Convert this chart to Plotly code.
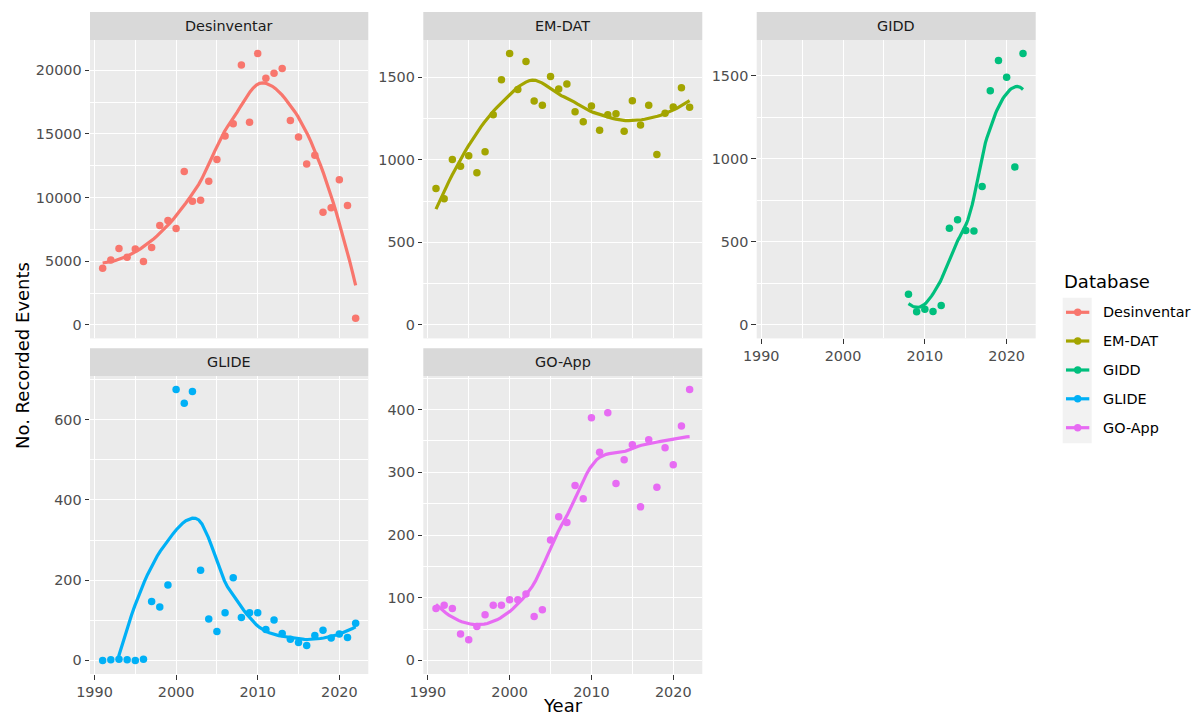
import numpy as np
import plotly.graph_objects as go

# ---------------- data ----------------
years_all = list(range(1991, 2023))
years_gidd = list(range(2008, 2023))

desinventar = [4450, 5100, 6000, 5300, 5950, 4970, 6070, 7800, 8190, 7570,
               12040, 9710, 9790, 11280, 12980, 14840, 15790, 20420, 15920, 21310,
               19370, 19760, 20130, 16050, 14760, 12640, 13320, 8850, 9190, 11390,
               9370, 520]
emdat = [826, 763, 1001, 961, 1024, 921, 1048, 1272, 1484, 1643,
         1425, 1595, 1355, 1330, 1504, 1429, 1458, 1290, 1230, 1326,
         1179, 1272, 1278, 1173, 1357, 1211, 1330, 1032, 1282, 1320,
         1436, 1318]
gidd = [184, 78, 94, 80, 116, 581, 632, 567, 565, 832, 1409, 1590, 1490, 950, 1632]
glide = [0, 2, 3, 2, 0, 3, 147, 133, 188, 675,
         641, 670, 225, 103, 72, 119, 206, 107, 119, 119,
         77, 101, 67, 53, 45, 37, 62, 75, 56, 66,
         57, 93]
goapp = [83, 88, 83, 42, 33, 54, 73, 88, 88, 97,
         97, 106, 70, 81, 192, 229, 220, 279, 258, 387,
         332, 395, 282, 320, 344, 245, 352, 276, 339, 312,
         374, 432]

databases = ["Desinventar", "EM-DAT", "GIDD", "GLIDE", "GO-App"]
series_x = [years_all, years_all, years_gidd, years_all, years_all]
series_y = [desinventar, emdat, gidd, glide, goapp]
colors = ["#F8766D", "#A3A500", "#00BF7D", "#00B0F6", "#E76BF3"]
major_dtick = [5000, 500, 500, 200, 100]
x_ticks = [1990, 2000, 2010, 2020]

# ---------------- layout geometry (pixels) ----------------
W, H = 1196, 715
col_x = [(90.0, 368.3), (423.3, 702.3), (756.7, 1035.7)]
row_y = [(40.0, 338.4), (376.0, 674.0)]
strip_y = [(12.0, 40.0), (348.3, 376.0)]
positions = [(0, 0), (0, 1), (0, 2), (1, 0), (1, 1)]


def px(x):
    return x / W


def py(y):
    return 1 - y / H


# ---------------- loess smoother (R-style, span 0.75, degree 2) ----------------
def local_fit(x, y, x0, q, degree=2):
    d = np.abs(x - x0)
    h = np.sort(d)[q - 1]
    u = np.clip(d / h, 0, 1)
    w = (1 - u ** 3) ** 3
    sw = np.sqrt(w)
    X = np.vander(x - x0, degree + 1, increasing=True)
    beta = np.linalg.lstsq(X * sw[:, None], y * sw, rcond=None)[0]
    return beta[0], beta[1]


def kd_vertices(xs_sorted, fc):
    lo_b, hi_b = xs_sorted[0], xs_sorted[-1]
    mu = 0.005 * (hi_b - lo_b)
    verts = {lo_b - mu, hi_b + mu}

    def split(l, u):
        if u - l + 1 <= fc:
            return
        m = (l + u) // 2
        v = (xs_sorted[m] + xs_sorted[m + 1]) / 2 if m < u else xs_sorted[m]
        verts.add(v)
        split(l, m)
        split(m + 1, u)

    split(0, len(xs_sorted) - 1)
    return np.array(sorted(verts))


def loess(x, y, xs, span=0.75, degree=2, cell=0.2):
    x = np.asarray(x, float)
    y = np.asarray(y, float)
    n = len(x)
    q = int(np.floor(n * span))
    fc = int(np.floor(n * span * cell))
    verts = kd_vertices(np.sort(x), fc)
    vals = np.array([local_fit(x, y, v, q, degree) for v in verts])
    out = []
    for x0 in xs:
        j = min(max(np.searchsorted(verts, x0) - 1, 0), len(verts) - 2)
        a, b = verts[j], verts[j + 1]
        hgt = b - a
        t = (x0 - a) / hgt
        fa, da = vals[j]
        fb, db = vals[j + 1]
        h00 = 2 * t ** 3 - 3 * t ** 2 + 1
        h10 = t ** 3 - 2 * t ** 2 + t
        h01 = -2 * t ** 3 + 3 * t ** 2
        h11 = t ** 3 - t ** 2
        out.append(h00 * fa + h10 * hgt * da + h01 * fb + h11 * hgt * db)
    return np.array(out)


fig = go.Figure()
font_family = "DejaVu Sans"
tick_font = dict(family=font_family, size=14.4, color="#4D4D4D")

xmin_all, xmax_all = 1991, 2022
xpad = (xmax_all - xmin_all) * 0.05
xrange = [xmin_all - xpad, xmax_all + xpad]

shapes = []
annotations = []

for i, (name, xs, ys, col, dt) in enumerate(zip(databases, series_x, series_y, colors, major_dtick)):
    r, c = positions[i]
    suffix = "" if i == 0 else str(i + 1)
    xa = "x" + suffix
    ya = "y" + suffix

    grid = np.linspace(min(xs), max(xs), 80)
    sm = loess(xs, ys, grid)
    sm_plot = np.where(sm >= 0, sm, np.nan)

    fig.add_trace(go.Scatter(x=xs, y=ys, mode="markers", xaxis=xa, yaxis=ya,
                             marker=dict(color=col, size=7.5), showlegend=False,
                             name=name, hoverinfo="x+y"))
    fig.add_trace(go.Scatter(x=grid, y=sm_plot, mode="lines", xaxis=xa, yaxis=ya,
                             line=dict(color=col, width=3.2), showlegend=False,
                             name=name, connectgaps=False))

    lo = 0.0
    hi = max(max(ys), float(np.nanmax(sm_plot)))
    pad = (hi - lo) * 0.05
    yrange = [lo - pad, hi + pad]

    show_x = (r == 1) or (i == 2)
    x0p, x1p = col_x[c]
    y0p, y1p = row_y[r]

    fig.layout["xaxis" + suffix] = dict(
        domain=[px(x0p), px(x1p)], anchor=ya, range=xrange, automargin=False,
        tickmode="array", tickvals=x_ticks,
        showticklabels=show_x, ticks="outside" if show_x else "",
        ticklen=4.5, tickwidth=1.1, tickcolor="#333333",
        tickfont=tick_font, showgrid=True, gridcolor="white", gridwidth=1.4,
        minor=dict(tickmode="array", tickvals=[1995, 2005, 2015], showgrid=True,
                   gridcolor="white", gridwidth=0.7, ticks=""),
        zeroline=False, showline=False, fixedrange=True,
    )
    fig.layout["yaxis" + suffix] = dict(
        domain=[py(y1p), py(y0p)], anchor=xa, range=yrange, automargin=False,
        tick0=0, dtick=dt, tickformat="d", ticks="outside", ticklen=4.5, tickwidth=1.1,
        tickcolor="#333333", tickfont=tick_font,
        showgrid=True, gridcolor="white", gridwidth=1.4,
        minor=dict(tick0=0, dtick=dt / 2, showgrid=True, gridcolor="white",
                   gridwidth=0.7, ticks=""),
        zeroline=False, showline=False, fixedrange=True,
    )

    # facet strip
    s0, s1 = strip_y[r]
    shapes.append(dict(type="rect", xref="paper", yref="paper",
                       x0=px(x0p), x1=px(x1p), y0=py(s1), y1=py(s0),
                       fillcolor="#D9D9D9", line=dict(width=0), layer="below"))
    annotations.append(dict(text=name, xref="paper", yref="paper",
                            x=px((x0p + x1p) / 2), y=py((s0 + s1) / 2),
                            xanchor="center", yanchor="middle", showarrow=False,
                            font=dict(family=font_family, size=14.4, color="#1A1A1A")))

# axis titles
annotations.append(dict(text="Year", xref="paper", yref="paper",
                        x=px(563), y=py(705), xanchor="center", yanchor="middle",
                        showarrow=False, font=dict(family=font_family, size=18, color="black")))
annotations.append(dict(text="No. Recorded Events", xref="paper", yref="paper",
                        x=px(23), y=py(356), xanchor="center", yanchor="middle",
                        textangle=-90, showarrow=False,
                        font=dict(family=font_family, size=18, color="black")))

# legend (drawn manually, ggplot style)
annotations.append(dict(text="Database", xref="paper", yref="paper",
                        x=px(1062), y=py(281), xanchor="left", yanchor="middle",
                        showarrow=False, font=dict(family=font_family, size=18, color="black")))
shapes.append(dict(type="rect", xref="paper", yref="paper",
                   x0=px(1062.7), x1=px(1091.7), y0=py(443.3), y1=py(297.7),
                   fillcolor="#F2F2F2", line=dict(width=0)))
leg_y = [312.3, 341.0, 370.0, 398.8, 427.7]
for name, col, yy in zip(databases, colors, leg_y):
    shapes.append(dict(type="line", xref="paper", yref="paper",
                       x0=px(1066), x1=px(1089.3), y0=py(yy), y1=py(yy),
                       line=dict(color=col, width=3.2)))
    shapes.append(dict(type="circle", xref="paper", yref="paper",
                       x0=px(1077.7 - 3.7), x1=px(1077.7 + 3.7),
                       y0=py(yy + 3.7), y1=py(yy - 3.7),
                       fillcolor=col, line=dict(width=0)))
    annotations.append(dict(text=name, xref="paper", yref="paper",
                            x=px(1101), y=py(yy), xanchor="left", yanchor="middle",
                            showarrow=False,
                            font=dict(family=font_family, size=14.4, color="black")))

fig.update_layout(
    width=W, height=H,
    margin=dict(l=0, r=0, t=0, b=0, pad=0, autoexpand=False),
    paper_bgcolor="white", plot_bgcolor="#EBEBEB",
    showlegend=False, shapes=shapes, annotations=annotations,
    font=dict(family=font_family),
)

fig.write_html("out.html", config={"displayModeBar": False},
               post_script="document.body.style.margin='0';document.body.style.overflow='hidden';")
